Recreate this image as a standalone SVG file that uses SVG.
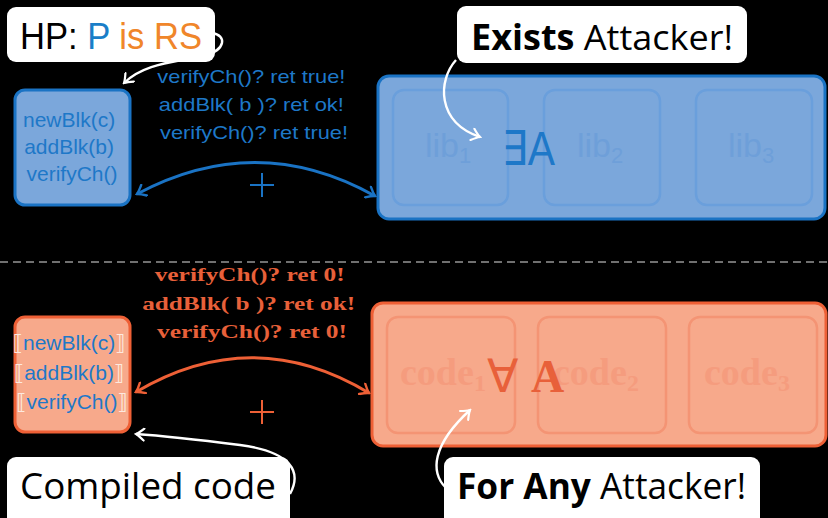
<svg xmlns="http://www.w3.org/2000/svg" width="828" height="518" viewBox="0 0 828 518">
  <style>
    .sans { font-family: "Liberation Sans", "DejaVu Sans", sans-serif; }
    .fira { font-family: "Open Sans", "Noto Sans", sans-serif; }
    .serifb { font-family: "Liberation Serif", "DejaVu Serif", serif; font-weight: bold; }
    .callout { fill: #ffffff; }
    .blueBox { fill: #7ba7db; stroke: #1a73c4; stroke-width: 3; }
    .blueInner { fill: none; stroke: #6a9fdc; stroke-width: 2.5; }
    .orangeBox { fill: #f7a98b; stroke: #ee6036; stroke-width: 3; }
    .orangeInner { fill: none; stroke: #f49474; stroke-width: 2.5; }
    .blueTxt { fill: #1e78c8; }
    .orangeTxt { fill: #e8603a; }
    .libTxt { fill: #6e9fd9; }
    .codeTxt { fill: #f59c7e; }
    .brk { fill: #fde9df; }
  </style>
  <defs>
    <marker id="tipBlue" viewBox="-10 -7 12 14" refX="0" refY="0" markerWidth="12" markerHeight="14" markerUnits="userSpaceOnUse" orient="auto-start-reverse">
      <path d="M -8 -6 Q -3 -1.5 0 0 Q -3 1.5 -8 6" fill="none" stroke="#1a73c4" stroke-width="2.4" stroke-linecap="round"/>
    </marker>
    <marker id="tipOrange" viewBox="-10 -7 12 14" refX="0" refY="0" markerWidth="12" markerHeight="14" markerUnits="userSpaceOnUse" orient="auto-start-reverse">
      <path d="M -8 -6 Q -3 -1.5 0 0 Q -3 1.5 -8 6" fill="none" stroke="#ee6036" stroke-width="2.4" stroke-linecap="round"/>
    </marker>
    <marker id="tipWhite" viewBox="-10 -7 12 14" refX="0" refY="0" markerWidth="12" markerHeight="14" markerUnits="userSpaceOnUse" orient="auto">
      <path d="M -8 -6 Q -3 -1.5 0 0 Q -3 1.5 -8 6" fill="none" stroke="#ffffff" stroke-width="2.2" stroke-linecap="round"/>
    </marker>
  </defs>

  <rect x="0" y="0" width="828" height="518" fill="#000000"/>

  <!-- separator between the two halves -->
  <line x1="0" y1="262" x2="828" y2="262" stroke="#e0e0e0" stroke-width="1.2" stroke-dasharray="8 5"/>

  <!-- source-level program -->
  <g id="src-program">
    <rect class="blueBox" x="15" y="90" width="115" height="115" rx="10"/>
    <text class="sans blueTxt" font-size="21" text-anchor="middle">
      <tspan x="72" y="127">newBlk(c)</tspan>
      <tspan x="72" y="154">addBlk(b)</tspan>
      <tspan x="72" y="181">verifyCh()</tspan>
    </text>
  </g>

  <!-- source-level context -->
  <g id="src-context">
    <rect class="blueBox" x="378" y="76" width="447" height="143" rx="11"/>
    <rect class="blueInner" x="393" y="90" width="115" height="115" rx="11"/>
    <rect class="blueInner" x="544" y="90" width="116" height="115" rx="11"/>
    <rect class="blueInner" x="696" y="90" width="116" height="115" rx="11"/>
    <text class="sans libTxt" font-size="34" x="425" y="157">lib<tspan font-size="22" dy="6">1</tspan></text>
    <text class="sans libTxt" font-size="34" x="577" y="157">lib<tspan font-size="22" dy="6">2</tspan></text>
    <text class="sans libTxt" font-size="34" x="728" y="157">lib<tspan font-size="22" dy="6">3</tspan></text>
    <text class="sans blueTxt" font-size="48" x="502" y="165" textLength="53" lengthAdjust="spacingAndGlyphs">∃A</text>
  </g>

  <!-- compiled program -->
  <g id="trg-program">
    <rect class="orangeBox" x="15" y="317" width="115" height="115" rx="10"/>
    <text class="sans" font-size="21" text-anchor="middle">
      <tspan x="72" y="350"><tspan class="brk">⟦</tspan><tspan class="blueTxt">newBlk(c)</tspan><tspan class="brk">⟧</tspan></tspan>
      <tspan x="72" y="380"><tspan class="brk">⟦</tspan><tspan class="blueTxt">addBlk(b)</tspan><tspan class="brk">⟧</tspan></tspan>
      <tspan x="72" y="409"><tspan class="brk">⟦</tspan><tspan class="blueTxt">verifyCh()</tspan><tspan class="brk">⟧</tspan></tspan>
    </text>
  </g>

  <!-- target-level context -->
  <g id="trg-context">
    <rect class="orangeBox" x="372" y="303" width="454" height="143" rx="11"/>
    <rect class="orangeInner" x="387" y="317" width="128" height="116" rx="11"/>
    <rect class="orangeInner" x="538" y="317" width="128" height="116" rx="11"/>
    <rect class="orangeInner" x="689" y="317" width="128" height="116" rx="11"/>
    <text class="serifb codeTxt" font-size="38" x="400" y="385">code<tspan font-size="24" dy="6">1</tspan></text>
    <text class="serifb codeTxt" font-size="38" x="553" y="385">code<tspan font-size="24" dy="6">2</tspan></text>
    <text class="serifb codeTxt" font-size="38" x="704" y="385">code<tspan font-size="24" dy="6">3</tspan></text>
    <text class="sans orangeTxt" font-size="46" x="487" y="392">∀</text>
    <text class="serifb orangeTxt" font-size="46" x="531" y="392">A</text>
  </g>

  <!-- interaction traces -->
  <g id="src-trace">
    <text class="sans blueTxt" font-size="19" text-anchor="middle">
      <tspan x="254" y="83" textLength="188" lengthAdjust="spacingAndGlyphs">verifyCh()? ret true!</tspan>
      <tspan x="254" y="111" textLength="185" lengthAdjust="spacingAndGlyphs">addBlk( b )? ret ok!</tspan>
      <tspan x="254" y="139" textLength="188" lengthAdjust="spacingAndGlyphs">verifyCh()? ret true!</tspan>
    </text>
  </g>
  <g id="trg-trace">
    <text class="serifb orangeTxt" font-size="19" text-anchor="middle">
      <tspan x="252" y="281" textLength="190" lengthAdjust="spacingAndGlyphs">verifyCh()? ret 0!</tspan>
      <tspan x="251" y="310" textLength="213" lengthAdjust="spacingAndGlyphs">addBlk( b )? ret ok!</tspan>
      <tspan x="252" y="338" textLength="190" lengthAdjust="spacingAndGlyphs">verifyCh()? ret 0!</tspan>
    </text>
  </g>

  <!-- linking connectors -->
  <g id="connectors" fill="none">
    <path d="M 137 194 Q 257 130 375 196" stroke="#1a73c4" stroke-width="3" marker-start="url(#tipBlue)" marker-end="url(#tipBlue)"/>
    <path d="M 250 185 H 274 M 262 173 V 197" stroke="#1a73c4" stroke-width="2"/>
    <path d="M 136 392 Q 253 323 369 393" stroke="#ee6036" stroke-width="3" marker-start="url(#tipOrange)" marker-end="url(#tipOrange)"/>
    <path d="M 250 412 H 274 M 262 400 V 424" stroke="#ee6036" stroke-width="2"/>

    <path d="M 212 33 C 227 35, 226 50, 205 55 C 180 62, 145 62, 124 83" stroke="#ffffff" stroke-width="2.4" marker-end="url(#tipWhite)"/>
    <path d="M 456 60 C 438 80, 436 122, 480 137" stroke="#ffffff" stroke-width="2.4" marker-end="url(#tipWhite)"/>
    <path d="M 290 494 C 302 472, 292 452, 240 445 C 200 440, 165 436, 136 434" stroke="#ffffff" stroke-width="2.4" marker-end="url(#tipWhite)"/>
    <path d="M 446 488 C 430 472, 432 445, 470 410" stroke="#ffffff" stroke-width="2.4" marker-end="url(#tipWhite)"/>
  </g>

  <!-- callouts -->
  <g id="callout-hp">
    <rect class="callout" x="7" y="7" width="208" height="55" rx="9"/>
    <text class="sans" font-size="37" x="20" y="49" textLength="182" lengthAdjust="spacingAndGlyphs"><tspan fill="#000000">HP: </tspan><tspan fill="#1a7ec8">P </tspan><tspan fill="#f0862a">is RS</tspan></text>
  </g>
  <g id="callout-exists">
    <rect class="callout" x="457" y="6" width="290" height="57" rx="9"/>
    <text class="fira" font-size="35" x="471" y="50" fill="#000000" textLength="262" lengthAdjust="spacingAndGlyphs"><tspan font-weight="bold">Exists</tspan> Attacker!</text>
  </g>
  <g id="callout-compiled">
    <rect class="callout" x="7" y="457" width="283" height="70" rx="9"/>
    <text class="fira" font-size="37" x="20" y="499" fill="#000000" textLength="256" lengthAdjust="spacingAndGlyphs">Compiled code</text>
  </g>
  <g id="callout-forany">
    <rect class="callout" x="444" y="457" width="316" height="70" rx="9"/>
    <text class="fira" font-size="36" x="457" y="499" fill="#000000" textLength="289" lengthAdjust="spacingAndGlyphs"><tspan font-weight="bold">For Any</tspan> Attacker!</text>
  </g>
</svg>
